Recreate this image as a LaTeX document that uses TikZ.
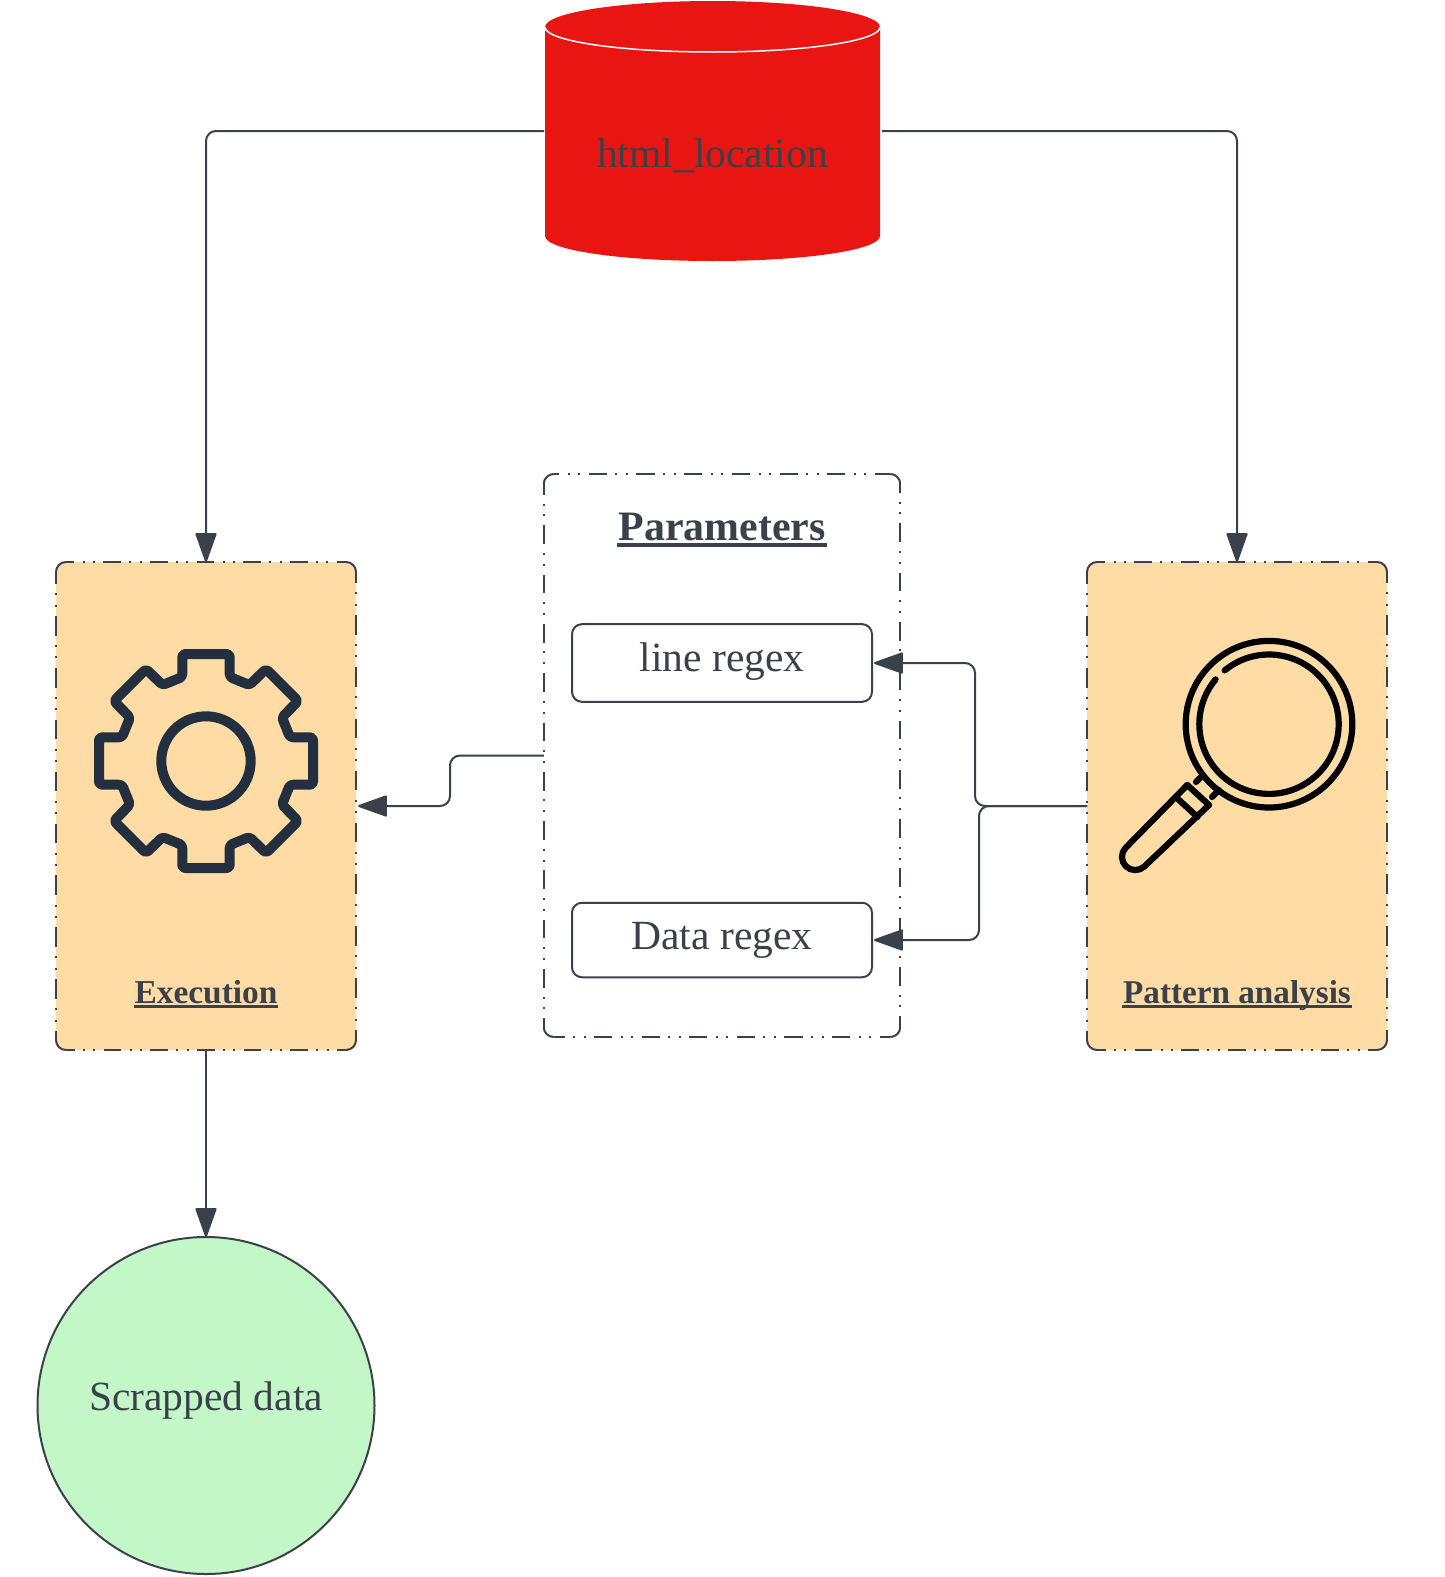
\documentclass[tikz,border=0pt]{standalone}
\usepackage{fontspec}
\setmainfont{Liberation Serif}
\usetikzlibrary{arrows.meta}
\definecolor{ink}{HTML}{3A414A}
\definecolor{peach}{HTML}{FFDBA6}
\definecolor{cylred}{HTML}{E81512}
\definecolor{mint}{HTML}{C3F7C8}
\definecolor{gearc}{HTML}{232F3E}
\newcommand\bigtxt{\fontsize{41.5}{48}\selectfont}
\newsavebox\ulsave
\newcommand\ulined[3]{\sbox\ulsave{#1}\usebox\ulsave\kern-\wd\ulsave\kern-1pt\vrule width\dimexpr\wd\ulsave+2pt\relax height -#2pt depth #3pt\kern-1pt\relax}
\tikzset{
  x=1pt,y=-1pt,
  panel/.style={rounded corners=10pt,inner sep=0pt,outer sep=0pt},
  frameline/.style={draw=ink,line width=2pt},
  dashside/.code 2 args={%
    \pgfmathsetmacro\dashlen{0.38*#1}%
    \pgfmathsetmacro\gaplen{(#1-\dashlen-4)/3}%
    \pgfmathsetmacro\phaselen{10-(#2)+#1}%
    \tikzset{dash pattern=on \dashlen pt off \gaplen pt on 2pt off \gaplen pt on 2pt off \gaplen pt,dash phase=\phaselen pt}},
  regexbox/.style={draw=ink,rounded corners=10pt,line width=2pt,inner sep=0pt,outer sep=0pt,fill=white,minimum width=300pt},
  conn/.style={draw=ink,line width=2pt,rounded corners=10pt},
  arrowed/.style={conn,-{Triangle[length=31pt,width=21.5pt,round=false]}},
  txt/.style={anchor=base,text=ink,inner sep=0pt,outer sep=0pt},
  gearline/.style={draw=gearc,line width=10pt,line join=round},
  lensline/.style={draw=black,line width=6.2pt,line join=round,line cap=round},
}
\newcommand\framecorners[4]{%
  \draw[frameline,rounded corners=10pt] (#1,{#2+10}) -- (#1,#2) -- ({#1+10},#2);
  \draw[frameline,rounded corners=10pt] ({#3-10},#2) -- (#3,#2) -- (#3,{#2+10});
  \draw[frameline,rounded corners=10pt] (#3,{#4-10}) -- (#3,#4) -- ({#3-10},#4);
  \draw[frameline,rounded corners=10pt] ({#1+10},#4) -- (#1,#4) -- (#1,{#4-10});
}
\begin{document}
\begin{tikzpicture}
\useasboundingbox (0,0) rectangle (1444,1577);
% cylinder
\fill[cylred] (545,27) .. controls (545,12.9) and (620,1) .. (712.5,1)
  .. controls (805,1) and (880,12.9) .. (880,27) -- (880,236)
  .. controls (880,250) and (805,261) .. (712.5,261)
  .. controls (620,261) and (545,250) .. (545,236) -- cycle;
\draw[white,line width=1.5pt] (545,27) .. controls (545,41) and (620,52) .. (712.5,52)
  .. controls (805,52) and (880,41) .. (880,27);
\node[txt] (cyltext) at (712.5,167.5) {\bigtxt html\_location};
\coordinate (cylL) at (544,131);
\coordinate (cylR) at (882,131);
% boxes
\node[panel,fill=peach,minimum width=300pt,minimum height=488pt] (exec) at (206,806) {};
\node[panel,fill=peach,minimum width=300pt,minimum height=488pt] (patt) at (1237,806) {};
\node[panel,minimum width=356.5pt,minimum height=563pt] (params) at (722,755.5) {};
% execution frame
\framecorners{56}{562}{356}{1050}
\draw[frameline,dashside={46.67}{0.6}] (66,562) -- (346,562);
\draw[frameline,dashside={46.67}{1}] (66,1050) -- (346,1050);
\draw[frameline,dashside={51.9}{2}] (56,572) -- (56,1040);
\draw[frameline,dashside={51.9}{1}] (356,572) -- (356,1040);
% pattern frame
\framecorners{1087}{562}{1387}{1050}
\draw[frameline,dashside={46.67}{0.6}] (1097,562) -- (1377,562);
\draw[frameline,dashside={46.67}{1}] (1097,1050) -- (1377,1050);
\draw[frameline,dashside={51.9}{2}] (1087,572) -- (1087,1040);
\draw[frameline,dashside={51.9}{1}] (1387,572) -- (1387,1040);
% parameters frame
\framecorners{543.75}{474}{900.25}{1037}
\draw[frameline,dashside={47.7}{-2.7}] (553.75,474) -- (890.25,474);
\draw[frameline,dashside={47.6}{2.7}] (553.75,1037) -- (890.25,1037);
\draw[frameline,dashside={49.3}{2}] (543.75,484) -- (543.75,1027);
\draw[frameline,dashside={49.3}{0}] (900.25,484) -- (900.25,1027);
\node[regexbox,minimum height=77.7pt] (line) at (722,663) {};
\node[regexbox,minimum height=74.5pt] (data) at (722,940) {};
\node[txt] (paramstxt) at (722,540) {\fontsize{41.9}{48}\selectfont\bfseries\ulined{Parameters}{3.3}{6.7}};
\node[txt] (linetxt) at (722,671) {\bigtxt line regex};
\node[txt] (datatxt) at (722,949.7) {\bigtxt Data regex};
\node[txt] (exectxt) at (206,1003.5) {\fontsize{33.4}{40}\selectfont\bfseries\ulined{Execution}{1.5}{4.2}};
\node[txt] (patttxt) at (1237,1003.5) {\fontsize{33.2}{40}\selectfont\bfseries\ulined{Pattern analysis}{1.5}{4.2}};
% circle
\node[draw=ink,fill=mint,circle,line width=2pt,minimum size=337pt,inner sep=0pt,outer sep=0pt] (scrap) at (206,1405.5) {};
\node[txt] (scraptxt) at (206,1410) {\bigtxt Scrapped data};
% gear
\begin{scope}[shift={(206,761)}]
\draw[gearline,rounded corners=3pt] (-23.7,-107) -- (23.7,-107) -- (23.7,-84) -- (43.5,-76) -- (60,-92) -- (92,-60) -- (76,-43.5) -- (84,-23.7)
 -- (107,-23.7) -- (107,23.7) -- (84,23.7) -- (76,43.5) -- (92,60) -- (60,92) -- (43.5,76) -- (23.7,84)
 -- (23.7,107) -- (-23.7,107) -- (-23.7,84) -- (-43.5,76) -- (-60,92) -- (-92,60) -- (-76,43.5) -- (-84,23.7)
 -- (-107,23.7) -- (-107,-23.7) -- (-84,-23.7) -- (-76,-43.5) -- (-92,-60) -- (-60,-92) -- (-43.5,-76) -- (-23.7,-84) -- cycle;
\draw[gearline] (0,0) circle[radius=44.7pt];
\end{scope}
% magnifier
\draw[lensline] (1196,782) -- (1202,776);
\draw[lensline] (1212,797) -- (1219,790);
\draw[lensline] (1269,724.2) circle[radius=83.3pt];
\begin{scope}[shift={(1269,724.2)},x=1pt,y=1pt]
\draw[lensline] (129.5:69.7) arc[start angle=129.5,end angle=-220,radius=69.7pt];
\end{scope}
\draw[lensline] (1187.3,785) -- (1209,805);
\draw[lensline] (1178,799) -- (1197.5,817);
\draw[lensline,rounded corners=13pt] (1187.3,785) -- (1116.6,857) -- (1135,875.4) -- (1209,805);
% connectors
\coordinate (lineIn) at (874,663);
\coordinate (dataIn) at (874,940);
\coordinate (execIn) at (358,806);
\coordinate (forkA) at (975,730);
\coordinate (forkB) at (979,870);
\coordinate (leftMid) at (450,780);
\draw[arrowed] (cylL) -| (exec.north);
\draw[arrowed] (cylR) -| (patt.north);
\draw[arrowed] (params.west) -| (leftMid) |- (execIn);
\draw[arrowed] (patt.west) -| (forkA) |- (lineIn);
\draw[arrowed] (patt.west) -| (forkB) |- (dataIn);
\draw[arrowed] (exec.south) -- (scrap.north);
\end{tikzpicture}
\end{document}
